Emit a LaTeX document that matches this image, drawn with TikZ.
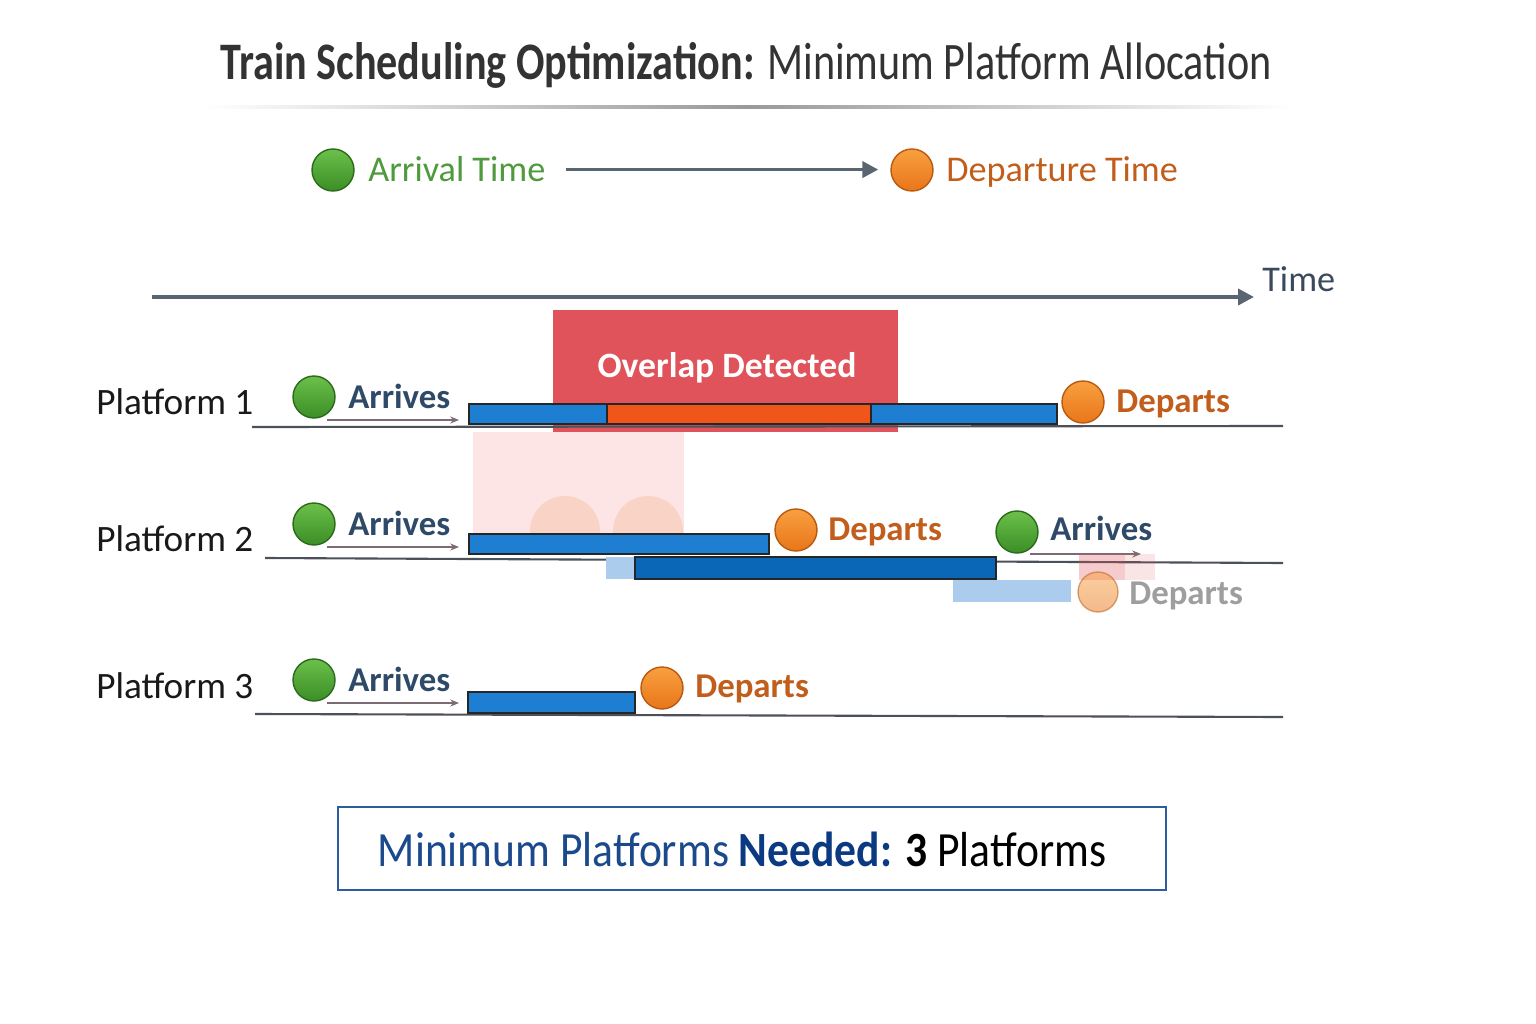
\documentclass[tikz,border=0pt]{standalone}
\usepackage{graphicx}
\usepackage{fontspec}
\setmainfont{Carlito}
\usetikzlibrary{arrows.meta}

\definecolor{titlegray}{HTML}{333333}
\definecolor{slate}{HTML}{5A6572}
\definecolor{timetext}{HTML}{3A4A5C}
\definecolor{arrgreen}{HTML}{4E9A3C}
\definecolor{deptext}{HTML}{C25E1C}
\definecolor{arrtext}{HTML}{2E4A68}
\definecolor{overlapred}{HTML}{E0535B}
\definecolor{barblue}{HTML}{1E7FD2}
\definecolor{bardark}{HTML}{0A66B6}
\definecolor{barorange}{HTML}{F0561A}
\definecolor{paleblue}{HTML}{ABCCEC}
\definecolor{palepink}{HTML}{FDE5E5}
\definecolor{palepeach}{HTML}{F9D3C6}
\definecolor{boxblue}{HTML}{2B5C9E}
\definecolor{needblue}{HTML}{1B4A8C}
\definecolor{needdark}{HTML}{0B3A82}
\definecolor{hintgray}{HTML}{7A6C72}
\definecolor{trackgray}{HTML}{4C5058}
\definecolor{greenlight}{HTML}{6CC04A}
\definecolor{greendark}{HTML}{3A8E26}
\definecolor{greenedge}{HTML}{2C6A1C}
\definecolor{orangelight}{HTML}{F8A040}
\definecolor{orangedark}{HTML}{E8761A}
\definecolor{orangeedge}{HTML}{B85A10}

\tikzset{
  ball/.style={circle, inner sep=0pt, minimum size=0.84cm, line width=0.8pt},
  arrball/.style={ball, draw=greenedge, top color=greenlight, bottom color=greendark},
  depball/.style={ball, draw=orangeedge, top color=orangelight, bottom color=orangedark},
  rowlabel/.style={anchor=base west, inner sep=0pt, text=black!90, font=\fontsize{21.2}{25}\selectfont},
  arrlabel/.style={anchor=base west, inner sep=0pt, text=arrtext, font=\bfseries\fontsize{19.8}{24}\selectfont},
  deplabel/.style={arrlabel, text=deptext},
  legendtext/.style={anchor=base west, inner sep=0pt, font=\fontsize{20.6}{24}\selectfont},
  hint/.style={draw=hintgray, line width=0.7pt, -{Stealth[length=5pt,width=4pt]}},
  track/.style={draw=trackgray, line width=1.2pt},
  slot/.style={draw=black!85, line width=0.6pt},
  axisarrow/.style={draw=slate, line width=2.2pt, -{Triangle[length=9pt,width=9pt]}},
}

\begin{document}
\begin{tikzpicture}[x=0.02cm, y=-0.02cm]
  \useasboundingbox[fill=white] (0,0) rectangle (1536,1024);

  % title
  \node[anchor=base, inner sep=0pt, text=titlegray, font=\fontsize{30}{36}\selectfont] (title) at (746,80)
    {\scalebox{0.8}[1]{\textbf{Train Scheduling Optimization:} Minimum Platform Allocation}};
  \shade[left color=white, right color=white, middle color=black!40] (205,106) rectangle (1290,108.5);

  % legend
  \node[arrball] (legArr) at (333,170) {};
  \node[legendtext, text=arrgreen] (legArrText) at (368,182) {Arrival Time};
  \node[depball] (legDep) at (912,170) {};
  \node[legendtext, text=deptext] (legDepText) at (946,182) {Departure Time};
  \draw[axisarrow, shorten <=0.4cm, shorten >=0.24cm] (legArrText.east) -- (legArrText.east -| legDep.west);

  % time axis
  \coordinate (axisStart) at (152,297);
  \coordinate (axisEnd) at (1254,297);
  \draw[axisarrow] (axisStart) -- (axisEnd);
  \node[legendtext, text=timetext] (timeLabel) at (1262,291) {Time};

  % overlap window
  \fill[overlapred] (553,310) rectangle (898,432);
  \node[anchor=base, inner sep=0pt, text=white, font=\bfseries\fontsize{20.3}{24}\selectfont] (overlapText) at (727,377) {Overlap Detected};
  \fill[palepink] (473,432) rectangle (684,534);
  \begin{scope}
    \clip (473,432) rectangle (684,534);
    \fill[palepeach] (565,531) circle[radius=0.7cm];
    \fill[palepeach] (648,531) circle[radius=0.7cm];
  \end{scope}

  % platforms
  \foreach \n/\yb/\yl/\tx/\tyl/\tyr in {1/397/414/252/427/426, 2/524/551/265/558/563, 3/680/698/255/714/717} {
    \coordinate (trackA\n) at (\tx,\tyl);
    \coordinate (trackB\n) at (1283,\tyr);
    \draw[track] (trackA\n) -- (trackB\n);
    \node[rowlabel] (plat\n) at (96,\yl) {Platform \n};
    \node[arrball] (arr\n) at (314,\yb) {};
    \node[arrlabel] (arrText\n) at (348,\yb+11) {Arrives};
    \coordinate (hintA\n) at (327,\yb+23);
    \coordinate (hintB\n) at (459,\yb+23);
    \draw[hint] (hintA\n) -- (hintB\n);
  }

  % platform 1
  \draw[slot, fill=barblue] (469,404) rectangle (607,424);
  \draw[slot, fill=barorange] (607,404) rectangle (871,424);
  \draw[slot, fill=barblue] (871,404) rectangle (1057,424);
  \node[depball] (dep1) at (1083,402) {};
  \node[deplabel] (depText1) at (1116,412) {Departs};

  % platform 2
  \draw[slot, fill=barblue] (469,534) rectangle (769,554);
  \node[depball] (dep2) at (796,530) {};
  \node[deplabel] (depText2) at (828,540) {Departs};
  \node[arrball] (arr2b) at (1017,532) {};
  \node[arrlabel] (arrText2b) at (1050,540) {Arrives};
  \coordinate (hintA2b) at (1030,554);
  \coordinate (hintB2b) at (1141,554);
  \draw[hint] (hintA2b) -- (hintB2b);
  \fill[paleblue] (606,557) rectangle (635,579);
  \draw[slot, fill=bardark] (635,557) rectangle (996,579);
  \fill[paleblue] (953,580) rectangle (1071,602);
  \fill[overlapred, opacity=0.3] (1079,554) rectangle (1125,580);
  \fill[overlapred, opacity=0.15] (1125,554) rectangle (1155,580);
  \node[depball, minimum size=0.8cm, opacity=0.5] (dep2b) at (1098,592) {};
  \node[deplabel, text=black!38] (depText2b) at (1129,604) {Departs};

  % platform 3
  \draw[slot, fill=barblue] (468,692) rectangle (635,713);
  \node[depball] (dep3) at (662,688) {};
  \node[deplabel] (depText3) at (695,697) {Departs};

  % summary
  \draw[draw=boxblue, line width=1.2pt] (338,807) rectangle (1166,890);
  \node[anchor=base, inner sep=0pt, font=\fontsize{28}{34}\selectfont] (summary) at (742,866)
    {\scalebox{0.886}[1]{\textcolor{needblue}{Minimum Platforms} \textcolor{needdark}{\bfseries Needed:} \textbf{3} Platforms}};
\end{tikzpicture}
\end{document}
